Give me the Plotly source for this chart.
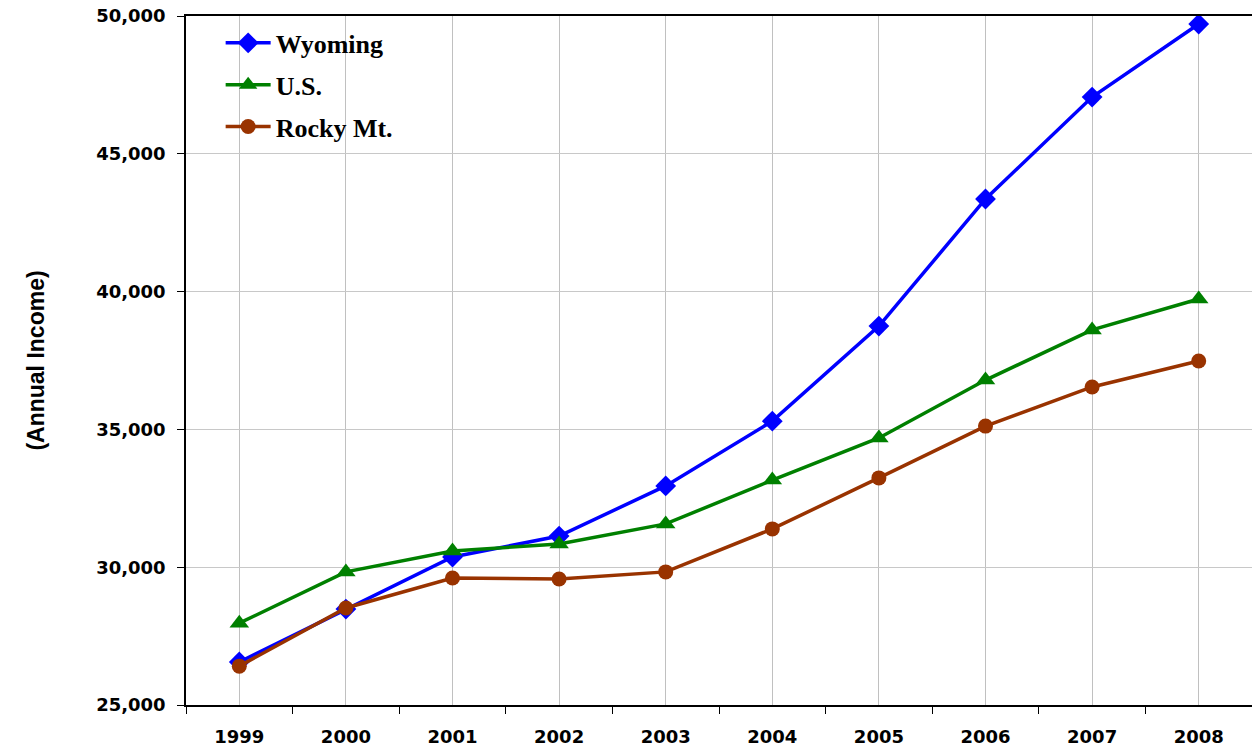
import plotly.graph_objects as go

years = [1999, 2000, 2001, 2002, 2003, 2004, 2005, 2006, 2007, 2008]
wyoming = [26560, 28480, 30370, 31130, 32950, 35300, 38750, 43360, 47060, 49710]
us = [27970, 29830, 30590, 30840, 31570, 33160, 34690, 36790, 38610, 39730]
rocky = [26410, 28520, 29610, 29570, 29830, 31390, 33240, 35120, 36540, 37480]
year_labels = [str(y) for y in years]

fig = go.Figure()
series = [
    ("Wyoming", wyoming, "#0000FF", "diamond", 16),
    ("U.S.", us, "#008000", "triangle-up", 17),
    ("Rocky Mt.", rocky, "#993300", "circle", 15),
]
for i, (name, vals, color, sym, ms) in enumerate(series):
    fig.add_trace(go.Scatter(
        x=years, y=vals, name=name, mode="lines+markers",
        line=dict(color=color, width=3.5),
        marker=dict(symbol=sym, size=ms, color=color),
        legendgroup=f"g{i}",
    ))

tick_font = dict(family="DejaVu Sans", size=18, color="black", weight="bold")

fig.update_layout(
    width=1252, height=748,
    margin=dict(l=186, r=0, t=16, b=43),
    plot_bgcolor="white", paper_bgcolor="white",
    showlegend=True,
    legend=dict(
        x=0.0325, y=0.995, xanchor="left", yanchor="top",
        font=dict(family="Liberation Serif", size=26, color="black", weight="bold"),
        bgcolor="rgba(0,0,0,0)", tracegroupgap=5, itemwidth=45,
    ),
    xaxis=dict(
        range=[1998.5, 2008.5], automargin=False,
        tickvals=years, ticktext=year_labels,
        ticks="", showgrid=True, gridcolor="#C0C0C0", gridwidth=1,
        showline=True, linecolor="black", linewidth=1.5, mirror=True,
        tickfont=tick_font,
        ticklabelstandoff=15,
        minor=dict(tickvals=[y + 0.5 for y in [1998] + years], ticks="outside",
                   ticklen=7, tickcolor="black", tickwidth=1, showgrid=False),
        zeroline=False,
    ),
    yaxis=dict(
        range=[25000, 50000], dtick=5000, tickformat=",", automargin=False,
        showgrid=True, gridcolor="#C8C8C8", gridwidth=1,
        showline=True, linecolor="black", linewidth=1.5,
        ticks="outside", ticklen=7, tickcolor="black",
        tickfont=tick_font, ticklabelstandoff=8,
        title=dict(text="(Annual Income)", standoff=45,
                   font=dict(family="Liberation Sans", size=23, color="black", weight="bold")),
        zeroline=False,
    ),
)

fig.write_html("out.html", config={"displayModeBar": False},
               post_script="document.body.style.margin='0';")
